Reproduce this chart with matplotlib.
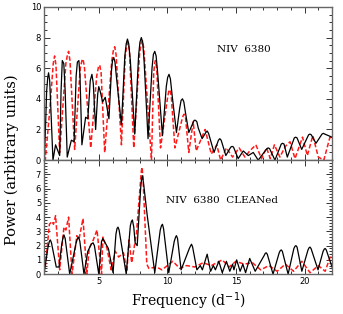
import numpy as np
import matplotlib.pyplot as plt
from matplotlib.ticker import MultipleLocator, FixedLocator

# top panel: NIV 6380 periodogram (black = data, red = window)
f_top_obs = [1.0, 1.05, 1.2, 1.28, 1.34, 1.42, 1.5, 1.66, 1.85, 2.15,
             2.25, 2.34, 2.45, 2.55, 2.7, 3.0, 3.2, 3.35, 3.44, 3.55,
             3.63, 3.77, 4.04, 4.2, 4.38, 4.5, 4.6, 4.77, 4.92, 5.0,
             5.1, 5.28, 5.47, 5.74, 5.92, 6.0, 6.09, 6.18, 6.3, 6.65,
             6.9, 7.0, 7.09, 7.18, 7.3, 7.62, 7.9, 8.0, 8.1, 8.2,
             8.3, 8.59, 8.88, 8.98, 9.08, 9.18, 9.3, 9.64, 9.92, 10.02,
             10.12, 10.22, 10.35, 10.66, 10.9, 11.0, 11.1, 11.2, 11.3, 11.56,
             11.85, 11.95, 12.05, 12.15, 12.25, 12.53, 12.8, 12.9, 13.0, 13.4,
             13.72, 13.82, 13.92, 14.26, 14.62, 14.72, 14.82, 15.16, 15.53, 15.9,
             16.26, 16.62, 17.25, 17.35, 17.45, 17.84, 18.3, 18.4, 18.5, 18.74,
             19.25, 19.35, 19.45, 19.79, 20.29, 20.39, 20.49, 20.83, 21.27, 21.37,
             21.47, 22.0]
p_top_obs = [0.0, 0.3, 4.5, 5.4, 5.7, 5.2, 3.5, 0.0, 1.0, 0.3,
             4.5, 6.5, 6.3, 4.5, 0.2, 1.3, 1.2, 5.5, 6.4, 6.5,
             5.5, 1.0, 2.8, 2.7, 5.2, 5.6, 5.0, 2.0, 4.3, 4.8,
             4.5, 3.8, 4.1, 2.7, 5.8, 6.5, 6.7, 6.4, 5.3, 2.3,
             6.8, 7.6, 7.9, 7.6, 6.5, 1.7, 6.8, 7.7, 8.0, 7.7,
             6.5, 1.4, 6.0, 6.9, 7.1, 6.8, 5.6, 1.6, 4.8, 5.4,
             5.6, 5.3, 4.2, 1.8, 3.4, 3.9, 4.0, 3.8, 3.2, 1.8,
             2.4, 2.6, 2.6, 2.5, 2.1, 1.4, 1.8, 1.9, 1.75, 0.5,
             1.3, 1.4, 1.3, 0.3, 0.85, 0.9, 0.85, 0.1, 0.6, 0.3,
             0.5, 0.0, 0.75, 0.8, 0.75, 0.0, 1.05, 1.1, 1.05, 0.2,
             1.45, 1.5, 1.45, 0.7, 1.65, 1.7, 1.65, 1.1, 1.7, 1.75,
             1.7, 1.5]

f_top_win = [1.0, 1.1, 1.45, 1.68, 1.78, 1.88, 2.15,
             2.6, 2.72, 2.8, 2.9, 3.24, 3.65, 3.77, 3.85, 3.95, 4.41,
             4.85, 4.98, 5.07, 5.17, 5.43, 5.95, 6.07, 6.16, 6.26, 6.65,
             6.93, 7.05, 7.13, 7.23, 7.55, 7.98, 8.1, 8.18, 8.28, 8.84,
             9.0, 9.07, 9.13, 9.22, 9.5, 10.0, 10.1, 10.18, 10.28, 10.55,
             11.05, 11.15, 11.22, 11.32, 11.56, 11.88, 12.1, 12.75, 13.2, 13.6,
             13.88, 14.3, 14.75, 15.23, 15.65, 16.0, 16.45, 16.86, 17.23, 17.5,
             17.8, 18.2, 18.6, 18.94, 19.3, 19.85, 20.2, 20.6, 21.0, 21.4,
             21.85, 22.0]
p_top_win = [0.0, 0.0, 3.5, 6.3, 6.8, 6.2, 0.5,
             6.3, 6.9, 7.1, 6.5, 0.7, 6.0, 6.5, 6.6, 6.1, 0.8,
             5.5, 6.1, 6.2, 5.7, 0.5, 6.5, 7.2, 7.4, 6.9, 1.0,
             6.8, 7.5, 7.7, 7.2, 0.8, 7.0, 7.7, 7.8, 7.3, 0.0,
             5.6, 6.3, 6.5, 6.0, 0.8, 4.0, 4.5, 4.6, 4.2, 0.8,
             2.6, 2.9, 3.0, 2.8, 0.5, 2.5, 0.6, 2.0, 0.4, 1.0,
             0.0, 0.8, 0.2, 0.8, 0.2, 0.6, 1.0, 0.1, 0.8, 0.1,
             1.0, 0.2, 0.9, 1.2, 0.1, 1.5, 0.3, 1.6, 0.2, 0.0,
             1.5, 1.4]

# bottom panel: CLEANed periodogram
f_bot_obs = [1.0, 1.3, 1.4, 1.47, 1.55, 1.9, 2.1, 2.3, 2.4, 2.46,
             2.55, 2.88, 3.35, 3.45, 3.53, 3.62, 3.92, 4.2, 4.45, 4.58,
             4.68, 5.0, 5.2, 5.3, 5.4, 5.7, 6.04, 6.25, 6.33, 6.4,
             6.48, 7.0, 7.3, 7.38, 7.45, 7.55, 7.65, 7.8, 8.05, 8.12,
             8.18, 8.26, 8.52, 9.08, 9.48, 9.57, 9.64, 9.72, 10.1, 10.5,
             10.6, 10.66, 10.74, 11.0, 11.6, 11.7, 11.76, 11.84, 12.15, 12.4,
             12.55, 12.9, 13.15, 13.35, 13.5, 13.75, 14.0, 14.3, 14.55, 14.75,
             14.85, 15.05, 15.3, 15.5, 15.7, 16.0, 16.4, 17.05, 17.13, 17.2,
             17.28, 17.7, 18.15, 18.23, 18.3, 18.38, 18.8, 19.22, 19.3, 19.37,
             19.45, 19.8, 20.25, 20.33, 20.39, 20.47, 20.98, 21.35, 21.43, 21.5,
             21.58, 22.0]
p_bot_obs = [0.0, 1.9, 2.3, 2.4, 2.2, 0.5, 0.5, 2.1, 2.6, 2.75,
             2.5, 0.0, 2.2, 2.5, 2.6, 2.3, 0.0, 1.6, 2.1, 2.2,
             2.0, 0.0, 2.3, 2.5, 2.3, 1.8, 0.1, 2.8, 3.2, 3.3,
             3.1, 0.0, 3.4, 3.7, 3.8, 3.3, 2.2, 2.0, 6.0, 6.7,
             6.9, 6.4, 4.2, 0.1, 3.1, 3.4, 3.5, 3.2, 0.1, 2.3,
             2.6, 2.7, 2.5, 0.3, 1.8, 2.0, 2.1, 1.9, 0.3, 0.6,
             0.3, 1.4, 0.2, 0.6, 0.3, 0.9, 0.1, 0.9, 0.2, 0.7,
             0.3, 1.0, 0.2, 0.7, 0.1, 1.1, 0.2, 1.3, 1.45, 1.5,
             1.4, 0.0, 1.5, 1.65, 1.7, 1.6, 0.0, 1.8, 1.95, 2.0,
             1.9, 0.2, 1.7, 1.85, 1.9, 1.8, 0.3, 1.6, 1.75, 1.8,
             1.7, 0.5]

f_bot_win = [1.0, 1.1, 1.4, 1.6, 1.7, 1.85, 2.15, 2.46, 2.6, 2.8,
             3.05, 3.4, 3.55, 3.85, 4.13, 4.3, 4.6, 4.87, 5.2, 5.3,
             5.6, 5.9, 6.2, 6.45, 6.8, 7.05, 7.2, 7.4, 7.75, 8.0,
             8.1, 8.15, 8.22, 8.5, 8.65, 9.2, 9.6, 10.0, 10.4, 10.9,
             11.4, 12.0, 12.6, 13.2, 14.0, 14.5, 15.0, 15.6, 16.2, 16.8,
             17.4, 18.0, 18.6, 19.2, 19.8, 20.4, 21.0, 21.5, 21.9, 22.0]
p_bot_win = [0.0, 0.5, 3.5, 3.7, 3.5, 4.1, 0.3, 3.3, 3.1, 4.0,
             0.0, 2.7, 2.4, 3.9, 0.0, 1.8, 2.4, 3.1, 0.0, 2.6,
             1.8, 0.3, 1.6, 1.2, 1.5, 0.2, 2.4, 0.8, 2.9, 6.0,
             7.2, 7.5, 6.8, 0.7, 0.4, 0.5, 0.3, 0.6, 0.9, 0.4,
             0.6, 0.5, 0.8, 0.6, 1.0, 0.5, 0.9, 0.7, 0.8, 0.3,
             0.6, 0.2, 0.7, 0.2, 0.9, 0.1, 0.6, 0.2, 1.3, 1.2]

fig = plt.figure(figsize=(3.43, 3.14), dpi=100)
ax1 = fig.add_axes([0.128, 0.490, 0.840, 0.488])
ax2 = fig.add_axes([0.128, 0.127, 0.840, 0.363])

red = '#ff1a1a'
ax1.plot(f_top_win, p_top_win, color=red, lw=1.1, ls=(0, (3, 1.5)))
ax1.plot(f_top_obs, p_top_obs, color='black', lw=0.9)
ax2.plot(f_bot_win, p_bot_win, color=red, lw=1.1, ls=(0, (3, 1.5)))
ax2.plot(f_bot_obs, p_bot_obs, color='black', lw=0.9)

ax1.set_xlim(1, 22)
ax1.set_ylim(0, 10)
ax2.set_xlim(1, 22)
ax2.set_ylim(0, 8)

ax1.yaxis.set_major_locator(MultipleLocator(2))
ax1.yaxis.set_minor_locator(MultipleLocator(0.5))
ax2.yaxis.set_major_locator(FixedLocator([0, 1, 2, 3, 4, 5, 6, 7]))
ax2.yaxis.set_minor_locator(MultipleLocator(0.2))
for ax in (ax1, ax2):
    ax.xaxis.set_major_locator(MultipleLocator(5))
    ax.xaxis.set_minor_locator(MultipleLocator(1))
    ax.tick_params(which='both', direction='in', top=True, right=True,
                   labelsize=6, pad=2, color='#333333', width=0.7)
    ax.tick_params(which='major', length=4)
    ax.tick_params(which='minor', length=2)
    for s in ax.spines.values():
        s.set_color('#666666')
        s.set_linewidth(1.0)
ax1.tick_params(labelbottom=False)

ax1.text(13.6, 7.2, 'NIV  6380', family='DejaVu Serif', fontsize=7.5, va='center')
ax2.text(9.9, 5.2, 'NIV  6380  CLEANed', family='DejaVu Serif', fontsize=7.5, va='center')

ax2.set_xlabel('Frequency (d$^{-1}$)', family='DejaVu Serif', fontsize=10, labelpad=3)
fig.text(0.035, 0.49, 'Power (arbitrary units)', family='DejaVu Serif', fontsize=10.5,
         rotation=90, ha='center', va='center')

fig.savefig('out.png', dpi=100)
